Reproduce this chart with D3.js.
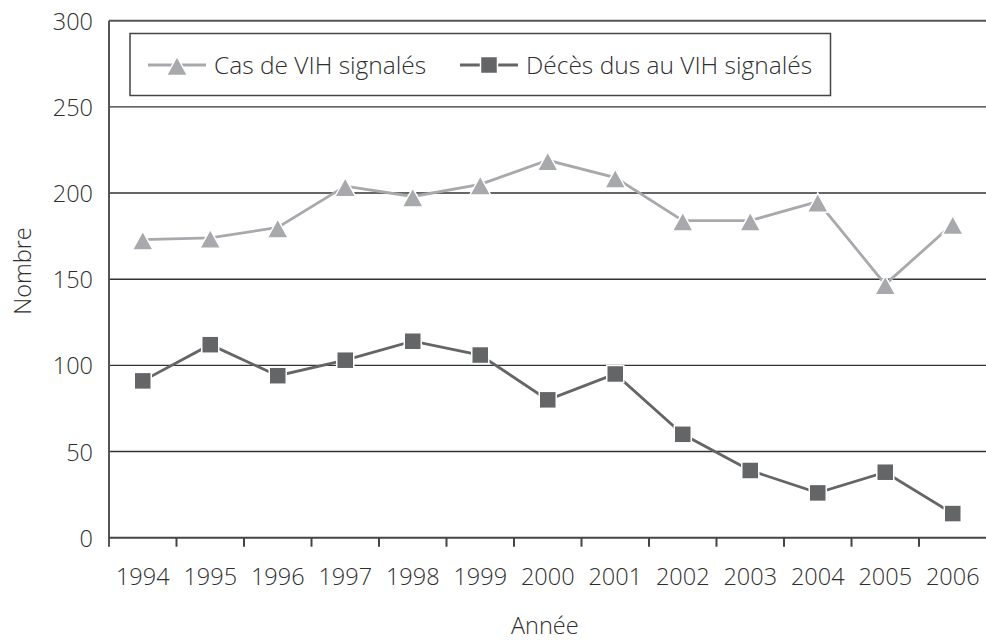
<!DOCTYPE html>
<html>
<head>
<meta charset="utf-8">
<script src="https://cdn.jsdelivr.net/npm/d3@7"></script>
<style>
  body { margin: 0; background: #fff; }
  text { font-family: "Open Sans", sans-serif; font-weight: 350; fill: #2e2e2e; }
</style>
</head>
<body>
<div id="chart"></div>
<script>
const width = 986;
const height = 641;

const years = ["1994", "1995", "1996", "1997", "1998", "1999", "2000", "2001", "2002", "2003", "2004", "2005", "2006"];
const casVIH = [173, 174, 180, 204, 198, 205, 219, 209, 184, 184, 195, 147, 182];
const decesVIH = [91, 112, 94, 103, 114, 106, 80, 95, 60, 39, 26, 38, 14];
const yTicks = [0, 50, 100, 150, 200, 250, 300];
const seriesNames = ["Cas de VIH signalés", "Décès dus au VIH signalés"];

const margin = {top: 20.7, right: 0, bottom: 103.3, left: 109};

const svg = d3.select("#chart")
  .append("svg")
  .attr("width", width)
  .attr("height", height);

const x = d3.scaleBand()
  .domain(years)
  .range([margin.left, margin.left + 877.5]);

const y = d3.scaleLinear()
  .domain([0, 300])
  .range([height - margin.bottom, margin.top]);

// gridlines
svg.append("g")
  .selectAll("line")
  .data(yTicks.filter(d => d > 0 && d < 300))
  .enter().append("line")
  .attr("x1", margin.left)
  .attr("x2", width)
  .attr("y1", d => y(d))
  .attr("y2", d => y(d))
  .attr("stroke", "#333")
  .attr("stroke-width", 1.4);

// top frame
svg.append("line")
  .attr("x1", margin.left)
  .attr("x2", width)
  .attr("y1", y(300))
  .attr("y2", y(300))
  .attr("stroke", "#555")
  .attr("stroke-width", 2);

// y axis
const yAxis = svg.append("g")
  .attr("transform", `translate(${margin.left},0)`)
  .call(d3.axisLeft(y).tickValues(yTicks).tickSize(0).tickPadding(16));
yAxis.select(".domain").remove();
yAxis.selectAll("text").attr("font-size", 23.5).attr("font-family", null).attr("dy", "0.36em");

svg.append("line")
  .attr("x1", margin.left)
  .attr("x2", margin.left)
  .attr("y1", y(300))
  .attr("y2", y(0) + 9)
  .attr("stroke", "#555")
  .attr("stroke-width", 2);

// x axis
const xAxis = svg.append("g")
  .attr("transform", `translate(0,${y(0)})`)
  .call(d3.axisBottom(x).tickSize(0).tickPadding(31));
xAxis.select(".domain").remove();
xAxis.selectAll("text").attr("font-size", 23.5).attr("font-family", null);

svg.append("line")
  .attr("x1", margin.left)
  .attr("x2", width)
  .attr("y1", y(0))
  .attr("y2", y(0))
  .attr("stroke", "#444")
  .attr("stroke-width", 2);

svg.append("g")
  .selectAll("line")
  .data(years.slice(1))
  .enter().append("line")
  .attr("x1", d => x(d))
  .attr("x2", d => x(d))
  .attr("y1", y(0))
  .attr("y2", y(0) + 9)
  .attr("stroke", "#444")
  .attr("stroke-width", 2);

// axis titles
svg.append("text")
  .attr("x", margin.left + 877.5 / 2 - 3)
  .attr("y", 634)
  .attr("text-anchor", "middle")
  .attr("font-size", 23.5)
  .text("Année");

svg.append("text")
  .attr("transform", `translate(31,271) rotate(-90)`)
  .attr("text-anchor", "middle")
  .attr("font-size", 23.5)
  .text("Nombre");

const cx = (d, i) => x(years[i]) + x.bandwidth() / 2;

const line = d3.line()
  .x((d, i) => cx(d, i))
  .y(d => y(d));

const triangle = "M0,-8.5L10.5,10.5L-10.5,10.5Z";

function drawSeries(values, color, marker) {
  svg.append("path")
    .datum(values)
    .attr("fill", "none")
    .attr("stroke", color)
    .attr("stroke-width", 2.8)
    .attr("d", line);

  const g = svg.append("g");
  if (marker === "triangle") {
    g.selectAll("path")
      .data(values)
      .enter().append("path")
      .attr("transform", (d, i) => `translate(${cx(d, i)},${y(d)})`)
      .attr("d", triangle)
      .attr("fill", color)
      .attr("stroke", "#fff")
      .attr("stroke-width", 1.5);
  } else {
    g.selectAll("rect")
      .data(values)
      .enter().append("rect")
      .attr("x", (d, i) => cx(d, i) - 8.5)
      .attr("y", d => y(d) - 8.5)
      .attr("width", 17)
      .attr("height", 17)
      .attr("fill", color)
      .attr("stroke", "#fff")
      .attr("stroke-width", 1.5);
  }
}

drawSeries(casVIH, "#a8a9ac", "triangle");
drawSeries(decesVIH, "#646567", "square");

// legend
const legend = svg.append("g");
legend.append("rect")
  .attr("x", 130)
  .attr("y", 33.5)
  .attr("width", 700.5)
  .attr("height", 62)
  .attr("fill", "#fff")
  .attr("stroke", "#444")
  .attr("stroke-width", 1.5);

const legendItems = [
  {name: seriesNames[0], color: "#a8a9ac", marker: "triangle", x0: 148},
  {name: seriesNames[1], color: "#646567", marker: "square", x0: 460}
];

legendItems.forEach(item => {
  const g = legend.append("g").attr("transform", `translate(${item.x0},65)`);
  g.append("line")
    .attr("x1", 0).attr("x2", 58)
    .attr("stroke", item.color)
    .attr("stroke-width", 2.8);
  if (item.marker === "triangle") {
    g.append("path")
      .attr("transform", "translate(29,0)")
      .attr("d", triangle)
      .attr("fill", item.color)
      .attr("stroke", "#fff")
      .attr("stroke-width", 1.5);
  } else {
    g.append("rect")
      .attr("x", 20.5).attr("y", -8.5)
      .attr("width", 17).attr("height", 17)
      .attr("fill", item.color)
      .attr("stroke", "#fff")
      .attr("stroke-width", 1.5);
  }
  g.append("text")
    .attr("x", 66)
    .attr("dy", "0.35em")
    .attr("font-size", 24.5)
    .text(item.name);
});
</script>
</body>
</html>
